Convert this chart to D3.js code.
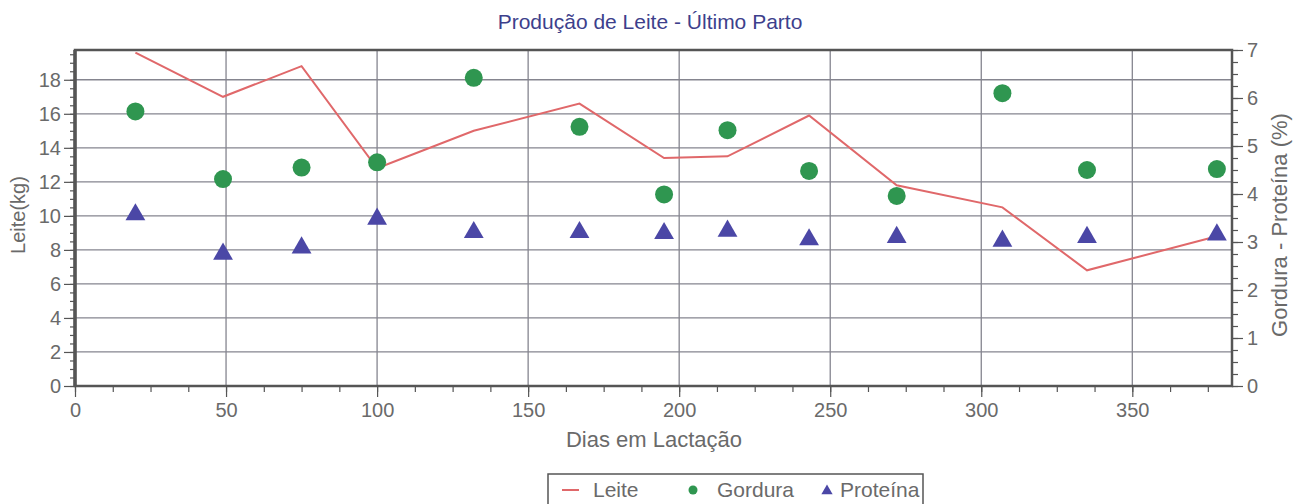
<!DOCTYPE html>
<html>
<head>
<meta charset="utf-8">
<script src="https://cdn.jsdelivr.net/npm/d3@7"></script>
<style>
  body { margin: 0; background: #fff; }
  svg text { font-family: "Liberation Sans", Arial, sans-serif; }
</style>
</head>
<body>
<svg id="chart" width="1293" height="504"></svg>
<script>
// days in lactation for each test
var days = [20, 49, 75, 100, 132, 167, 195, 216, 243, 272, 307, 335, 378];
// milk (kg) - left axis
var leite = [19.6, 17.0, 18.8, 12.8, 15.0, 16.6, 13.4, 13.5, 15.9, 11.8, 10.5, 6.8, 8.8];
// fat and protein (%) - right axis
var gordura = [5.72, 4.31, 4.55, 4.66, 6.42, 5.40, 3.99, 5.33, 4.48, 3.96, 6.10, 4.50, 4.52];
var proteina = [3.57, 2.75, 2.88, 3.48, 3.20, 3.20, 3.18, 3.23, 3.05, 3.10, 3.02, 3.10, 3.15];

var xTicks = [0, 50, 100, 150, 200, 250, 300, 350];
var leftTicks = [0, 2, 4, 6, 8, 10, 12, 14, 16, 18];
var rightTicks = [0, 1, 2, 3, 4, 5, 6, 7];

const svg = d3.select("#chart");
const plotL = 75, plotR = 1232, plotT = 50, plotB = 386;

const x = d3.scaleLinear().domain([0, 383]).range([plotL, plotR]);
const yL = d3.scaleLinear().domain([0, 19.75]).range([plotB, plotT]);
const yR = d3.scaleLinear().domain([0, 7]).range([plotB, plotT]);

const gridColor = "#85858f";
const axisColor = "#555";
const labelColor = "#6a6a6a";

// grid lines
svg.append("g").selectAll("line.h")
  .data(leftTicks.slice(1))
  .enter().append("line")
  .attr("x1", plotL).attr("x2", plotR)
  .attr("y1", d => yL(d)).attr("y2", d => yL(d))
  .attr("stroke", gridColor).attr("stroke-width", 1.3);

svg.append("g").selectAll("line.v")
  .data(xTicks.slice(1))
  .enter().append("line")
  .attr("x1", d => x(d)).attr("x2", d => x(d))
  .attr("y1", plotT).attr("y2", plotB)
  .attr("stroke", gridColor).attr("stroke-width", 1.3);

// axes - minor ticks first, then the majors with labels
const styleAxis = function(g) {
  g.select(".domain").remove();
  g.selectAll("line").attr("stroke", axisColor).attr("stroke-width", 1.2);
  g.selectAll("text").attr("fill", labelColor).attr("font-size", 20);
};

svg.append("g").attr("transform", "translate(0," + plotB + ")")
  .call(d3.axisBottom(x).tickValues(d3.range(0, 383, 12.5)).tickSize(6).tickFormat(""))
  .call(styleAxis);
svg.append("g").attr("transform", "translate(0," + plotB + ")")
  .call(d3.axisBottom(x).tickValues(xTicks).tickSize(11).tickPadding(6))
  .call(styleAxis);

svg.append("g").attr("transform", "translate(" + plotL + ",0)")
  .call(d3.axisLeft(yL).tickValues(d3.range(0, 19.6, 0.5)).tickSize(5).tickFormat(""))
  .call(styleAxis);
svg.append("g").attr("transform", "translate(" + plotL + ",0)")
  .call(d3.axisLeft(yL).tickValues(leftTicks).tickSize(11).tickPadding(3))
  .call(styleAxis);

svg.append("g").attr("transform", "translate(" + plotR + ",0)")
  .call(d3.axisRight(yR).tickValues(d3.range(0, 7.01, 0.25)).tickSize(6).tickFormat(""))
  .call(styleAxis);
svg.append("g").attr("transform", "translate(" + plotR + ",0)")
  .call(d3.axisRight(yR).tickValues(rightTicks).tickSize(11).tickPadding(4).tickFormat(d3.format("d")))
  .call(styleAxis);

// plot frame
svg.append("rect")
  .attr("x", plotL).attr("y", plotT)
  .attr("width", plotR - plotL).attr("height", plotB - plotT)
  .attr("fill", "none").attr("stroke", axisColor).attr("stroke-width", 2.5);
svg.append("line")
  .attr("x1", plotL).attr("x2", plotL).attr("y1", plotT).attr("y2", plotB)
  .attr("stroke", axisColor).attr("stroke-width", 3.5);

// milk line
const line = d3.line()
  .x((d, i) => x(days[i]))
  .y(d => yL(d));
svg.append("path")
  .datum(leite)
  .attr("d", line)
  .attr("fill", "none")
  .attr("stroke", "#e0686a")
  .attr("stroke-width", 2);

// fat circles
svg.append("g").selectAll("circle")
  .data(gordura)
  .enter().append("circle")
  .attr("cx", (d, i) => x(days[i]))
  .attr("cy", d => yR(d))
  .attr("r", 9)
  .attr("fill", "#2f9650");

// protein triangles
const tri = d3.symbol().type(d3.symbolTriangle).size(170);
svg.append("g").selectAll("path")
  .data(proteina)
  .enter().append("path")
  .attr("d", tri)
  .attr("transform", (d, i) => "translate(" + x(days[i]) + "," + yR(d) + ")")
  .attr("fill", "#4b47a6");

// titles
svg.append("text")
  .attr("x", 650).attr("y", 29)
  .attr("text-anchor", "middle")
  .attr("font-size", 21)
  .attr("fill", "#3d3f8c")
  .text("Produção de Leite - Último Parto");

svg.append("text")
  .attr("x", 654).attr("y", 447)
  .attr("text-anchor", "middle")
  .attr("font-size", 22)
  .attr("fill", labelColor)
  .text("Dias em Lactação");

svg.append("text")
  .attr("transform", "translate(25,215) rotate(-90)")
  .attr("text-anchor", "middle")
  .attr("font-size", 20)
  .attr("fill", labelColor)
  .text("Leite(kg)");

svg.append("text")
  .attr("transform", "translate(1287,225) rotate(-90)")
  .attr("text-anchor", "middle")
  .attr("font-size", 22)
  .attr("fill", labelColor)
  .text("Gordura - Proteína (%)");

// legend
const legend = svg.append("g").attr("transform", "translate(548,474)");
legend.append("rect")
  .attr("width", 375).attr("height", 34)
  .attr("fill", "#fff").attr("stroke", axisColor).attr("stroke-width", 1.5);
legend.append("line")
  .attr("x1", 14).attr("x2", 31).attr("y1", 16).attr("y2", 16)
  .attr("stroke", "#e0686a").attr("stroke-width", 2);
legend.append("text").attr("x", 45).attr("y", 23)
  .attr("font-size", 21).attr("fill", labelColor).text("Leite");
legend.append("circle").attr("cx", 145).attr("cy", 16).attr("r", 4.5).attr("fill", "#2f9650");
legend.append("text").attr("x", 169).attr("y", 23)
  .attr("font-size", 21).attr("fill", labelColor).text("Gordura");
legend.append("path").attr("d", d3.symbol().type(d3.symbolTriangle).size(55))
  .attr("transform", "translate(279,17)").attr("fill", "#4b47a6");
legend.append("text").attr("x", 292).attr("y", 23)
  .attr("font-size", 21).attr("fill", labelColor).text("Proteína");
</script>
</body>
</html>
